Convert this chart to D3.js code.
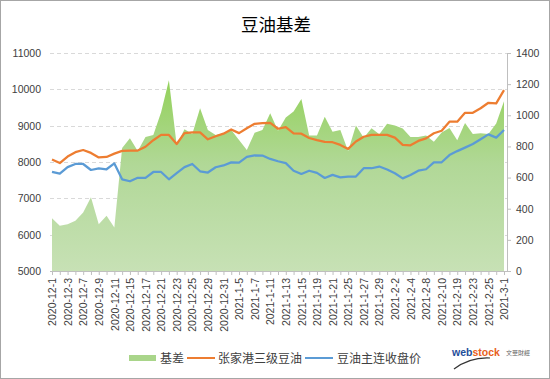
<!DOCTYPE html>
<html>
<head>
<meta charset="utf-8">
<script src="https://cdn.jsdelivr.net/npm/d3@7/dist/d3.min.js"></script>
<style>
  html, body { margin: 0; padding: 0; background: #fff; }
  svg { display: block; }
</style>
</head>
<body>
<svg id="chart" width="550" height="379"></svg>
<script>
// ---------- data ----------
const dates = [
  "2020-12-1","2020-12-2","2020-12-3","2020-12-4","2020-12-7","2020-12-8","2020-12-9","2020-12-10","2020-12-11",
  "2020-12-14","2020-12-15","2020-12-16","2020-12-17","2020-12-18","2020-12-21","2020-12-22","2020-12-23",
  "2020-12-24","2020-12-25","2020-12-28","2020-12-29","2020-12-30","2020-12-31",
  "2021-1-4","2021-1-5","2021-1-6","2021-1-7","2021-1-8","2021-1-11","2021-1-12","2021-1-13","2021-1-14",
  "2021-1-15","2021-1-18","2021-1-19","2021-1-20","2021-1-21","2021-1-22","2021-1-25","2021-1-26","2021-1-27",
  "2021-1-28","2021-1-29",
  "2021-2-1","2021-2-2","2021-2-3","2021-2-4","2021-2-5","2021-2-8","2021-2-9","2021-2-10","2021-2-18",
  "2021-2-19","2021-2-22","2021-2-23","2021-2-24","2021-2-25","2021-2-26","2021-3-1"
];
// 张家港三级豆油 (left axis)
const spotPrice = [
  8070,7970,8150,8270,8330,8250,8125,8140,8230,
  8305,8315,8315,8420,8600,8745,8745,8495,
  8795,8815,8815,8625,8710,8780,
  8895,8795,8930,9050,9070,9075,8915,8960,8785,
  8780,8660,8600,8555,8545,8470,8360,8565,8695,
  8745,8745,
  8745,8670,8470,8460,8580,8650,8790,8860,9110,
  9110,9355,9355,9480,9630,9615,9980
];
// 豆油主连收盘价 (left axis)
const futuresClose = [
  7730,7680,7860,7945,7945,7780,7825,7800,7960,
  7524,7470,7565,7565,7725,7725,7524,7695,
  7860,7945,7745,7710,7855,7905,
  7990,7985,8140,8180,8178,8085,8020,7970,7760,
  7670,7760,7700,7560,7645,7575,7600,7600,7828,
  7828,7875,
  7795,7690,7550,7640,7760,7800,7990,7992,8190,
  8300,8395,8495,8625,8760,8670,8880
];
// 基差 (right axis)
const basis = [
  338,290,300,322,375,473,300,355,280,
  790,852,770,860,874,1020,1225,809,
  910,880,1045,906,874,884,
  906,841,777,888,906,1013,900,985,1025,
  1105,870,870,990,895,905,770,935,855,
  916,878,
  945,935,915,860,860,870,830,890,918,
  840,950,880,885,880,948,1090
];
const leftTicks = [5000,6000,7000,8000,9000,10000,11000];
const rightTicks = [0,200,400,600,800,1000,1200,1400];
const seriesNames = ["基差","张家港三级豆油","豆油主连收盘价"];
const titleText = "豆油基差";

// ---------- drawing ----------
const svg = d3.select("#chart");
const W = 550, H = 379;
const plot = { left: 50, right: 507, top: 53, bottom: 271 };

svg.append("rect").attr("x",0).attr("y",0).attr("width",W).attr("height",H).attr("fill","#fff");
svg.append("rect").attr("x",0.5).attr("y",0.5).attr("width",W-1).attr("height",H-1)
  .attr("fill","none").attr("stroke","#a6a6a6").attr("stroke-width",1);

const x = d3.scalePoint().domain(dates).range([52, 504]);
const yL = d3.scaleLinear().domain([5000,11000]).range([plot.bottom, plot.top]);
const yR = d3.scaleLinear().domain([0,1400]).range([plot.bottom, plot.top]);

const numFont = "'Liberation Sans', Arial, sans-serif";
const cjkFont = "'Noto Sans CJK SC', 'Noto Sans', sans-serif";

// title
svg.append("text").attr("x", 276).attr("y", 31).attr("text-anchor","middle")
  .attr("font-family", cjkFont).attr("font-size", 17.5).attr("fill","#000").text(titleText);

// gridlines
svg.append("g").selectAll("line").data(leftTicks.filter(d => d > 5000)).join("line")
  .attr("x1", plot.left).attr("x2", plot.right)
  .attr("y1", d => Math.round(yL(d)) + 0.5).attr("y2", d => Math.round(yL(d)) + 0.5)
  .attr("stroke", "#d9d9d9").attr("stroke-width", 1).attr("stroke-dasharray", "4,3");

// gradient for area
const defs = svg.append("defs");
const grad = defs.append("linearGradient").attr("id","areaGrad")
  .attr("gradientUnits","userSpaceOnUse").attr("x1",0).attr("x2",0)
  .attr("y1", plot.top + 25).attr("y2", plot.bottom);
grad.append("stop").attr("offset","0%").attr("stop-color","#92d158");
grad.append("stop").attr("offset","45%").attr("stop-color","#b1d897");
grad.append("stop").attr("offset","100%").attr("stop-color","#c7e1b5");

// area
const area = d3.area().x((d,i) => x(dates[i])).y0(yR(0)).y1(d => yR(d));
svg.append("path").datum(basis).attr("d", area).attr("fill","url(#areaGrad)");

// lines
const lineL = d3.line().x((d,i) => x(dates[i])).y(d => yL(d));
svg.append("path").datum(spotPrice).attr("d", lineL).attr("fill","none")
  .attr("stroke","#ED7D31").attr("stroke-width",2.25).attr("stroke-linejoin","round");
svg.append("path").datum(futuresClose).attr("d", lineL).attr("fill","none")
  .attr("stroke","#5B9BD5").attr("stroke-width",2.25).attr("stroke-linejoin","round");

// x axis
const xAxis = d3.axisBottom(x).tickSize(4).tickFormat((d,i) => i % 2 === 0 ? d : "");
const gx = svg.append("g").attr("transform", `translate(0,${plot.bottom})`).call(xAxis);
gx.select(".domain").attr("stroke","#bfbfbf").attr("d", `M${plot.left},0.5H${plot.right}`);
gx.selectAll(".tick line").attr("stroke","#bfbfbf");
gx.selectAll(".tick text")
  .attr("font-family", numFont).attr("font-size", 10.5).attr("fill","#404040")
  .attr("text-anchor","end").attr("transform","rotate(-90)")
  .attr("x", -7).attr("y", 0).attr("dy","0.35em");

// left axis
const gl = svg.append("g").attr("transform", `translate(${plot.left},0)`)
  .call(d3.axisLeft(yL).tickValues(leftTicks).tickSize(0).tickPadding(9).tickFormat(d3.format("d")));
gl.select(".domain").remove();
gl.selectAll(".tick text").attr("font-family", numFont).attr("font-size", 10.5).attr("fill","#404040");

// right axis
const gr = svg.append("g").attr("transform", `translate(${plot.right},0)`)
  .call(d3.axisRight(yR).tickValues(rightTicks).tickSize(4).tickPadding(5).tickFormat(d3.format("d")));
gr.select(".domain").attr("stroke","#bfbfbf").attr("d", `M0.5,${plot.top}V${plot.bottom}`);
gr.selectAll(".tick line").attr("stroke","#bfbfbf");
gr.selectAll(".tick text").attr("font-family", numFont).attr("font-size", 10.5).attr("fill","#404040");

// legend
const lg = svg.append("g").attr("font-family", cjkFont).attr("font-size", 12).attr("fill","#404040");
lg.append("rect").attr("x",129).attr("y",355).attr("width",27).attr("height",6).attr("fill","#a9d58a");
lg.append("text").attr("x",160).attr("y",362.5).text(seriesNames[0]);
lg.append("line").attr("x1",187).attr("x2",215).attr("y1",358).attr("y2",358)
  .attr("stroke","#ED7D31").attr("stroke-width",2);
lg.append("text").attr("x",218).attr("y",362.5).text(seriesNames[1]);
lg.append("line").attr("x1",305).attr("x2",333).attr("y1",358).attr("y2",358)
  .attr("stroke","#5B9BD5").attr("stroke-width",2);
lg.append("text").attr("x",337).attr("y",362.5).text(seriesNames[2]);

// logo
const logo = svg.append("g");
logo.append("path").attr("d","M454,369 Q470,357 490,358").attr("fill","none")
  .attr("stroke","#333").attr("stroke-width",1.2);
const lt = logo.append("text").attr("x",452).attr("y",356).attr("font-family", numFont)
  .attr("font-size",10.5).attr("font-weight","bold");
lt.append("tspan").attr("fill","#1f4e9a").text("web");
lt.append("tspan").attr("fill","#e8601c").text("stock");
logo.append("text").attr("x",506).attr("y",355).attr("font-family", cjkFont)
  .attr("font-size",6).attr("fill","#666").text("文華財經");
</script>
</body>
</html>
